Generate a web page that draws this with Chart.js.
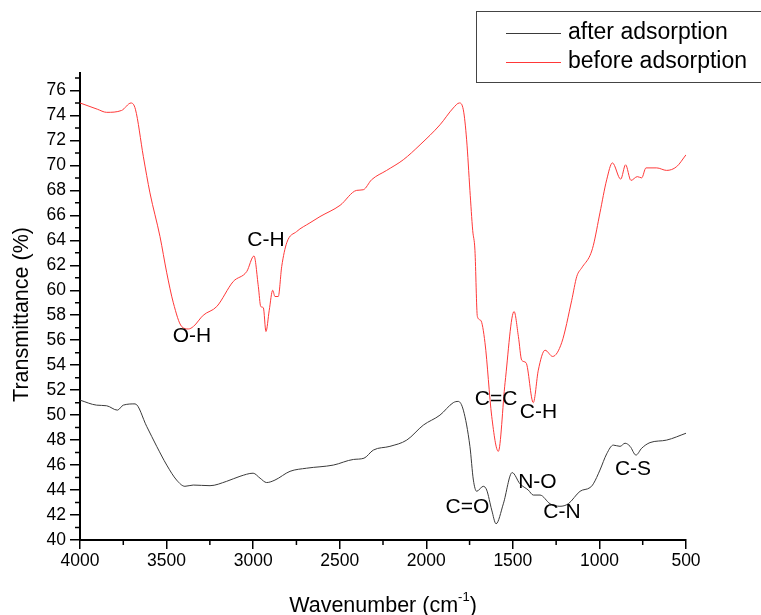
<!DOCTYPE html>
<html>
<head>
<meta charset="utf-8">
<title>FTIR spectra</title>
<script src="https://cdn.jsdelivr.net/npm/chart.js@4.4.1/dist/chart.umd.min.js"></script>
<style>
body { margin: 0; background: #fff; }
canvas { display: block; }
</style>
</head>
<body>
<canvas id="ftirChart" width="761" height="615"></canvas>
<script>
// spectrum before adsorption (red)
const beforeWave = [4000, 3900, 3846, 3760, 3705, 3680, 3634, 3596, 3538, 3499, 3461, 3413, 3374, 3345, 3288, 3210, 3115, 3037, 2995, 2970, 2956, 2941, 2926, 2907, 2887, 2874, 2855, 2835, 2806, 2749, 2672, 2614, 2498, 2402, 2364, 2316, 2229, 2133, 2036, 1921, 1844, 1809, 1786, 1767, 1748, 1732, 1719, 1705, 1686, 1661, 1622, 1584, 1545, 1493, 1468, 1449, 1424, 1382, 1353, 1314, 1270, 1218, 1160, 1131, 1102, 1054, 1035, 997, 958, 925, 877, 849, 818, 781, 756, 731, 669, 612, 554, 500];
const beforeT = [75.0, 74.5, 74.25, 74.4, 75.0, 74.5, 70.7, 67.8, 64.3, 61.4, 59.0, 57.1, 56.9, 57.1, 58.0, 58.7, 60.7, 61.5, 62.75, 60.3, 58.7, 58.6, 56.7, 58.4, 60.0, 59.5, 59.5, 61.9, 63.8, 64.7, 65.4, 65.9, 66.8, 68.0, 68.05, 68.85, 69.6, 70.45, 71.65, 73.25, 74.6, 75.0, 74.45, 72.05, 68.0, 64.8, 63.2, 57.9, 57.6, 55.8, 49.9, 47.1, 52.6, 58.3, 56.3, 54.4, 54.2, 51.0, 53.6, 55.2, 54.7, 55.8, 59.2, 61.1, 61.8, 62.8, 63.6, 66.2, 68.85, 70.2, 68.9, 70.05, 68.8, 69.1, 69.0, 69.8, 69.8, 69.6, 69.9, 70.85];

// spectrum after adsorption (black)
const afterWave = [4000, 3904, 3846, 3784, 3750, 3682, 3615, 3557, 3499, 3442, 3394, 3346, 3249, 3153, 3076, 3000, 2960, 2922, 2874, 2787, 2691, 2537, 2421, 2360, 2306, 2210, 2113, 2017, 1921, 1844, 1815, 1786, 1748, 1728, 1709, 1671, 1651, 1622, 1597, 1555, 1504, 1459, 1411, 1382, 1343, 1285, 1228, 1180, 1112, 1054, 1035, 997, 958, 920, 881, 852, 823, 789, 756, 708, 612, 500];
const afterT = [51.2, 50.8, 50.75, 50.4, 50.8, 50.9, 49.1, 47.5, 46.0, 44.8, 44.3, 44.4, 44.35, 44.7, 45.1, 45.35, 44.95, 44.6, 44.8, 45.5, 45.75, 46.0, 46.45, 46.55, 47.2, 47.5, 48.0, 49.2, 50.0, 51.0, 51.1, 50.4, 47.5, 44.8, 43.9, 44.3, 44.0, 42.4, 41.3, 42.9, 45.4, 44.5, 44.0, 43.6, 43.6, 42.9, 42.7, 42.9, 43.9, 44.2, 44.5, 45.6, 46.9, 47.6, 47.5, 47.75, 47.5, 46.8, 47.35, 47.8, 48.0, 48.55];

const seriesNames = ['after adsorption', 'before adsorption'];
const seriesColors = ['#3a3a3a', '#ff3838'];

const xTickValues = [4000, 3500, 3000, 2500, 2000, 1500, 1000, 500];
const yTickValues = [40, 42, 44, 46, 48, 50, 52, 54, 56, 58, 60, 62, 64, 66, 68, 70, 72, 74, 76];

// band assignments, placed at (wavenumber, transmittance)
const bandLabels = ['O-H', 'C-H', 'C=C', 'C-H', 'C=O', 'N-O', 'C-N', 'C-S'];
const bandWave = [3353, 2926, 1597, 1352, 1762, 1358, 1216, 806];
const bandT = [56.35, 64.04, 51.3, 50.2, 42.6, 44.6, 42.2, 45.7];

const FONT = '"Liberation Sans", Arial, sans-serif';

function toPoints(xs, ys) {
	return xs.map((x, i) => ({ x: x, y: ys[i] }));
}

const extras = {
	id: 'extras',
	afterDraw(chart) {
		const ctx = chart.ctx;
		const xs = chart.scales.x;
		const ys = chart.scales.y;
		ctx.save();

		// minor ticks
		ctx.strokeStyle = '#000';
		ctx.lineWidth = 1.5;
		ctx.beginPath();
		for (let i = 0; i < xTickValues.length - 1; i++) {
			const px = xs.getPixelForValue((xTickValues[i] + xTickValues[i + 1]) / 2);
			ctx.moveTo(px, ys.bottom);
			ctx.lineTo(px, ys.bottom + 5);
		}
		for (let i = 0; i < yTickValues.length; i++) {
			const py = ys.getPixelForValue(yTickValues[i] + 1);
			if (py < ys.top) continue;
			ctx.moveTo(xs.left, py);
			ctx.lineTo(xs.left - 5, py);
		}
		ctx.stroke();

		// band labels
		ctx.fillStyle = '#000';
		ctx.font = '21px ' + FONT;
		ctx.textAlign = 'center';
		ctx.textBaseline = 'middle';
		bandLabels.forEach((t, i) => {
			ctx.fillText(t, xs.getPixelForValue(bandWave[i]), ys.getPixelForValue(bandT[i]));
		});

		// axis titles
		ctx.font = '21.5px ' + FONT;
		ctx.save();
		ctx.translate(22, (ys.top + ys.bottom) / 2 + 8);
		ctx.rotate(-Math.PI / 2);
		ctx.fillText('Transmittance (%)', 0, 0);
		ctx.restore();

		const mainTxt = 'Wavenumber (cm';
		const supTxt = '-1';
		ctx.textAlign = 'left';
		const w1 = ctx.measureText(mainTxt).width;
		const w3 = ctx.measureText(')').width;
		ctx.font = '13px ' + FONT;
		const w2 = ctx.measureText(supTxt).width;
		const total = w1 + w2 + w3;
		let tx = (xs.left + xs.right) / 2 - total / 2;
		const ty = 606;
		ctx.font = '21.5px ' + FONT;
		ctx.fillText(mainTxt, tx, ty);
		ctx.font = '13px ' + FONT;
		ctx.fillText(supTxt, tx + w1, ty - 9);
		ctx.font = '21.5px ' + FONT;
		ctx.fillText(')', tx + w1 + w2, ty);

		// legend box
		ctx.strokeStyle = '#444';
		ctx.lineWidth = 1;
		ctx.strokeRect(476.5, 11.5, 300, 71);
		ctx.font = '23px ' + FONT;
		const rows = [33, 62];
		chart.data.datasets.forEach((ds, i) => {
			ctx.strokeStyle = ds.borderColor;
			ctx.lineWidth = 1;
			ctx.beginPath();
			ctx.moveTo(506, rows[i] + 0.5);
			ctx.lineTo(561, rows[i] + 0.5);
			ctx.stroke();
			ctx.fillStyle = '#000';
			ctx.fillText(ds.label, 568, rows[i]);
		});

		ctx.restore();
	}
};

new Chart(document.getElementById('ftirChart'), {
	type: 'line',
	data: {
		datasets: [
			{
				label: seriesNames[0],
				data: toPoints(afterWave, afterT),
				borderColor: seriesColors[0],
				borderWidth: 1,
				pointRadius: 0,
				cubicInterpolationMode: 'monotone',
				fill: false
			},
			{
				label: seriesNames[1],
				data: toPoints(beforeWave, beforeT),
				borderColor: seriesColors[1],
				borderWidth: 1,
				pointRadius: 0,
				cubicInterpolationMode: 'monotone',
				fill: false
			}
		]
	},
	options: {
		responsive: false,
		animation: false,
		layout: { padding: { top: 73, right: 75, left: 0, bottom: 0 } },
		plugins: {
			legend: { display: false },
			tooltip: { enabled: false }
		},
		scales: {
			x: {
				type: 'linear',
				reverse: true,
				min: 500,
				max: 4000,
				afterBuildTicks: scale => { scale.ticks = xTickValues.map(v => ({ value: v })); },
				afterFit: scale => { scale.height = 75; },
				border: { display: true, color: '#000', width: 2 },
				grid: { drawOnChartArea: false, drawTicks: true, tickLength: 9, color: '#000', lineWidth: 1.5 },
				ticks: { color: '#000', font: { family: FONT, size: 17.5 }, padding: 2, maxRotation: 0, callback: v => String(v) }
			},
			y: {
				type: 'linear',
				min: 40,
				max: 77.4,
				afterBuildTicks: scale => { scale.ticks = yTickValues.map(v => ({ value: v })); },
				afterFit: scale => { scale.width = 80; },
				border: { display: true, color: '#000', width: 2 },
				grid: { drawOnChartArea: false, drawTicks: true, tickLength: 10, color: '#000', lineWidth: 1.5 },
				ticks: { color: '#000', font: { family: FONT, size: 17.5 }, padding: 4, callback: v => String(v) }
			}
		}
	},
	plugins: [extras]
});
</script>
</body>
</html>
